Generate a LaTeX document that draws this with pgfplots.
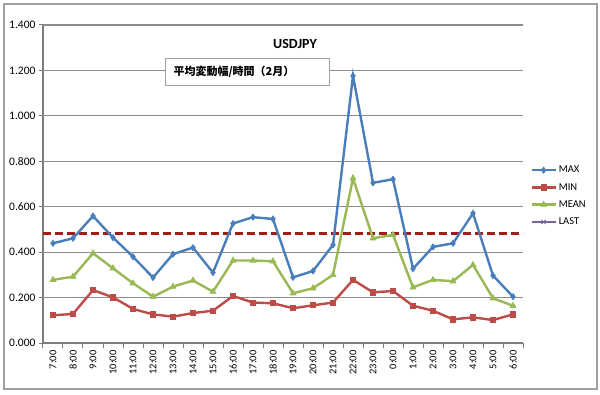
\documentclass[border=0pt]{standalone}
\usepackage{pgfplots}
\usepackage{pgfplotstable}
\pgfplotsset{compat=1.18}
\usepackage{fontspec}
\setmainfont{Carlito}
\newfontfamily\cjk{Noto Sans CJK JP}
\definecolor{cmax}{RGB}{74,126,187}
\definecolor{cmin}{RGB}{190,75,72}
\definecolor{cmean}{RGB}{152,185,84}
\definecolor{clast}{RGB}{125,96,160}
\definecolor{cdash}{RGB}{160,30,25}
\definecolor{cgrid}{RGB}{140,140,140}
\definecolor{cframe}{RGB}{160,160,160}
\definecolor{caxis}{RGB}{125,125,125}

\pgfplotstableread{
x max min mean
0  0.439 0.122 0.278
1  0.461 0.128 0.292
2  0.559 0.233 0.395
3  0.464 0.201 0.329
4  0.380 0.150 0.263
5  0.288 0.126 0.204
6  0.391 0.116 0.248
7  0.420 0.132 0.275
8  0.310 0.142 0.226
9  0.526 0.207 0.363
10 0.554 0.178 0.363
11 0.546 0.175 0.360
12 0.289 0.153 0.219
13 0.317 0.166 0.241
14 0.432 0.178 0.300
15 1.176 0.278 0.725
16 0.705 0.223 0.461
17 0.721 0.229 0.476
18 0.327 0.164 0.245
19 0.423 0.142 0.278
20 0.439 0.104 0.272
21 0.571 0.113 0.344
22 0.297 0.101 0.197
23 0.204 0.126 0.164
}\datatable

\begin{document}
\begin{tikzpicture}
\fill[white] (0pt,0pt) rectangle (600pt,394pt);
\draw[cframe, line width=1.2pt] (4pt,5pt) rectangle (597pt,390pt);
\begin{axis}[
  at={(43pt,51pt)}, anchor=south west,
  scale only axis, width=480pt, height=318pt,
  xmin=-0.5, xmax=23.5, ymin=0, ymax=1.4,
  axis lines*=left,
  axis line style={caxis, line width=1.2pt},
  ytick={0,0.2,...,1.4},
  ymajorgrids=true,
  major grid style={draw=cgrid, line width=1.2pt},
  tick align=outside,
  major tick length=4pt,
  minor tick length=5pt,
  every tick/.append style={draw=caxis, line width=1pt},
  every major x tick/.append style={draw=none},
  yticklabel style={font=\fontsize{11.5}{13}\selectfont, /pgf/number format/fixed, /pgf/number format/fixed zerofill, /pgf/number format/precision=3, /pgf/number format/assume math mode=true},
  xtick={0,1,...,23},
  xticklabels={7:00,8:00,9:00,10:00,11:00,12:00,13:00,14:00,15:00,16:00,17:00,18:00,19:00,20:00,21:00,22:00,23:00,0:00,1:00,2:00,3:00,4:00,5:00,6:00},
  minor xtick={-0.5,0.5,...,23.5},
  xticklabel style={font=\fontsize{10.5}{12}\selectfont, rotate=90, anchor=east},
  legend style={at={(1.015,0.462)}, anchor=west, draw=none, fill=none, font=\fontsize{10.5}{12}\selectfont, row sep=5pt, inner sep=0pt},
  legend cell align=left,
  legend image code/.code={\draw[mark repeat=2,mark phase=2] plot coordinates {(0pt,0pt) (12pt,0pt) (24pt,0pt)};},
]
\addplot[cgrid, line width=1.2pt, forget plot] coordinates {(-0.5,0.2) (23.5,0.2)};
\addplot[cgrid, line width=1.2pt, forget plot] coordinates {(-0.5,0.4) (23.5,0.4)};
\addplot[cgrid, line width=1.2pt, forget plot] coordinates {(-0.5,0.6) (23.5,0.6)};
\addplot[cgrid, line width=1.2pt, forget plot] coordinates {(-0.5,0.8) (23.5,0.8)};
\addplot[cgrid, line width=1.2pt, forget plot] coordinates {(-0.5,1.0) (23.5,1.0)};
\addplot[cgrid, line width=1.2pt, forget plot] coordinates {(-0.5,1.2) (23.5,1.2)};
\addplot[cgrid, line width=1.2pt, forget plot] coordinates {(-0.5,1.4) (23.5,1.4)};
\addplot[cdash, line width=2.6pt, dash pattern=on 8pt off 4pt, forget plot] coordinates {(-0.5,0.482) (23.5,0.482)};
\addplot[cmax, line width=2.4pt, mark=diamond*, mark size=3pt, mark options={solid, fill=cmax, line width=0.8pt}] table[x=x,y=max] {\datatable};
\addlegendentry{MAX}
\addplot[cmin, line width=2.4pt, mark=square*, mark size=2.6pt, mark options={solid, fill=cmin, line width=0.8pt}] table[x=x,y=min] {\datatable};
\addlegendentry{MIN}
\addplot[cmean, line width=2.4pt, mark=triangle*, mark size=3.3pt, mark options={solid, fill=cmean, line width=0.8pt}] table[x=x,y=mean] {\datatable};
\addlegendentry{MEAN}
\addlegendimage{clast, line width=2.4pt, mark=x, mark size=3pt, mark options={solid, line width=0.8pt}}
\addlegendentry{LAST}
\end{axis}
\node[font=\bfseries\fontsize{14}{16}\selectfont] at (295pt,350pt) {USDJPY};
\node[draw=cframe, fill=white, line width=1pt, anchor=north west, text width=148pt, inner xsep=8pt, minimum height=27pt, align=left, font=\cjk\bfseries\fontsize{11}{13}\selectfont] at (165pt,336pt) {平均変動幅/時間（2月）};
\pgfresetboundingbox
\path (0pt,0pt) rectangle (600pt,394pt);
\end{tikzpicture}
\end{document}
